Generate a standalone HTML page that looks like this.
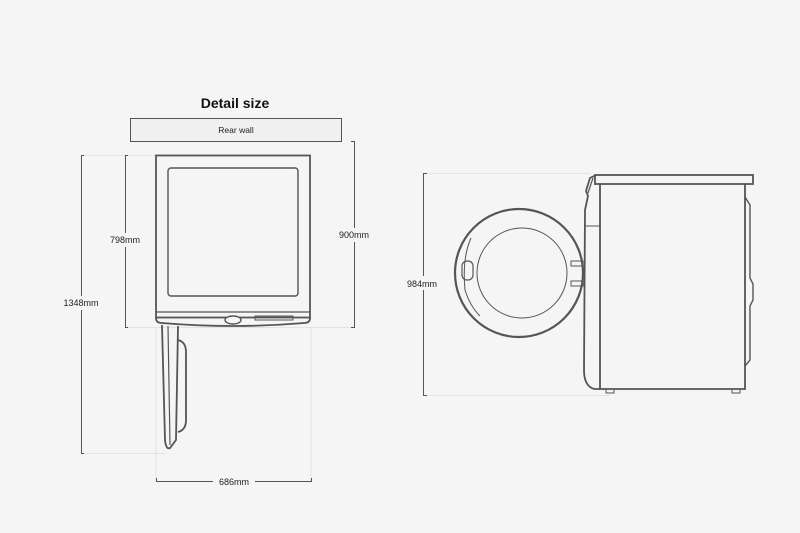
<!DOCTYPE html>
<html><head><meta charset="utf-8"><style>
html,body{margin:0;padding:0;background:#f5f5f5;}
svg{display:block;font-family:"Liberation Sans",sans-serif;}
</style></head><body>
<svg width="800" height="533" viewBox="0 0 800 533" xmlns="http://www.w3.org/2000/svg">
<rect width="800" height="533" fill="#f5f5f5"/>
<text x="235" y="108" font-size="14" font-weight="bold" text-anchor="middle" fill="#111">Detail size</text>
<rect x="130.5" y="118.5" width="211" height="23" fill="#f0f0f0" stroke="#555" stroke-width="1"/>
<text x="236" y="133" font-size="8.5" text-anchor="middle" fill="#222">Rear wall</text>

<g stroke="#ddd" stroke-width="0.8" fill="none">
<line x1="82" y1="155.5" x2="156" y2="155.5"/>
<line x1="126" y1="327.5" x2="354" y2="327.5"/>
<line x1="82" y1="453.5" x2="165" y2="453.5"/>
<line x1="156" y1="327" x2="156" y2="481"/>
<line x1="311" y1="327" x2="311" y2="481"/>
<line x1="424" y1="173.5" x2="590" y2="173.5"/>
<line x1="424" y1="395.5" x2="610" y2="395.5"/>
</g>

<g stroke="#555" stroke-width="1" fill="none">
<path d="M84 155.5 H81.5 V453.5 H84"/>
<path d="M128 155.5 H125.5 V327.5 H128"/>
<path d="M351 141.5 H354.5 V327.5 H351"/>
<path d="M156.5 478 V481.5 H311.5 V478"/>
<path d="M427 173.5 H423.5 V395.5 H427"/>
</g>
<g font-size="9" fill="#222" text-anchor="middle">
<rect x="60" y="296" width="44" height="14" fill="#f5f5f5"/>
<text x="81" y="306">1348mm</text>
<rect x="106" y="233" width="40" height="14" fill="#f5f5f5"/>
<text x="125" y="243">798mm</text>
<rect x="334" y="228" width="42" height="14" fill="#f5f5f5"/>
<text x="354" y="238">900mm</text>
<rect x="213" y="475" width="42" height="14" fill="#f5f5f5"/>
<text x="234" y="485">686mm</text>
<rect x="402" y="276" width="42" height="14" fill="#f5f5f5"/>
<text x="422" y="287">984mm</text>
</g>

<g stroke="#555" stroke-width="1.8" fill="none">
<rect x="156" y="155.5" width="154" height="162" fill="#f5f5f5"/>
<rect x="168" y="168" width="130" height="128" rx="3" stroke-width="1.4"/>
<path d="M156 312 H310" stroke-width="1.2"/>
<path d="M156 318 Q156 323 162 323 Q233 329 304 323 Q310 323 310 318"/>
<ellipse cx="233" cy="320" rx="8" ry="4" fill="#f5f5f5" stroke-width="1.4"/>
<rect x="255" y="316" width="38" height="4" stroke-width="1"/>
<path d="M162 325 L165 440 Q166 450 170 448 L176 440 L178 326"/>
<path d="M168 326 L170 445" stroke-width="1.2"/>
<path d="M178 340 Q186 342 186 352 L186 420 Q186 430 178 432"/>
</g>

<g stroke="#555" stroke-width="1.8" fill="none">
<circle cx="519" cy="273" r="64" stroke-width="2.2"/>
<circle cx="522" cy="273" r="45" stroke-width="1"/>
<path d="M471 238 Q462 258 465 290 Q470 306 480 316" stroke-width="1"/>
<rect x="462" y="261" width="11" height="19" rx="5" stroke-width="1.2"/>
<rect x="571" y="261" width="12" height="5" stroke-width="1"/>
<rect x="571" y="281" width="12" height="5" stroke-width="1"/>
<rect x="595" y="175" width="158" height="9" fill="#f5f5f5"/>
<path d="M600 184 V389 H745 V184"/>
<path d="M745 197 L750 205 V278 L753 284 V300 L750 306 V360 L745 366" stroke-width="1.4"/>
<path d="M596 175 L590 178 L586 191 L588 196 L585 210 L584 370 Q584 386 594 389 L600 389"/>
<path d="M585 226 H600" stroke-width="1"/>
<path d="M593 178 L588 193" stroke-width="1.2"/>
<rect x="606" y="389" width="8" height="4" stroke-width="1"/>
<rect x="732" y="389" width="8" height="4" stroke-width="1"/>
</g>
</svg>
</body></html>
